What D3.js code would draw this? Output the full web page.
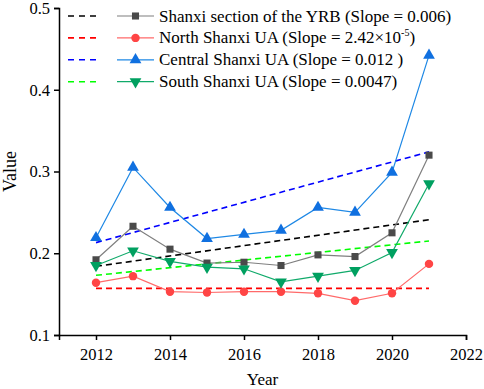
<!DOCTYPE html>
<html>
<head>
<meta charset="utf-8">
<script src="https://cdn.jsdelivr.net/npm/d3@7"></script>
<style>
  body { margin: 0; background: #fff; }
  text { font-family: "Liberation Serif", "Times New Roman", serif; fill: #000; }
</style>
</head>
<body>
<script>
window.onload = function(){

    var w = 484, h = 389;

    // data
    var years = [2012, 2013, 2014, 2015, 2016, 2017, 2018, 2019, 2020, 2021];
    var yrbValues     = [0.192, 0.233, 0.205, 0.188, 0.189, 0.185, 0.198, 0.196, 0.225, 0.320];
    var northValues   = [0.164, 0.172, 0.153, 0.152, 0.153, 0.153, 0.151, 0.142, 0.151, 0.187];
    var centralValues = [0.219, 0.305, 0.256, 0.218, 0.223, 0.228, 0.256, 0.250, 0.299, 0.442];
    var southValues   = [0.185, 0.203, 0.190, 0.183, 0.181, 0.165, 0.172, 0.179, 0.201, 0.285];

    // trend lines: value at 2012 and at 2021
    var trendYears = [2012, 2021];
    var yrbTrend     = [0.184, 0.241];
    var northTrend   = [0.157, 0.157];
    var centralTrend = [0.213, 0.324];
    var southTrend   = [0.173, 0.215];

    var xTicks = [2012, 2014, 2016, 2018, 2020, 2022];
    var yTicks = [0.1, 0.2, 0.3, 0.4, 0.5];

    var series = [
        {name: "Shanxi section of the YRB (Slope = 0.006)", values: yrbValues, trend: yrbTrend,
         line: "#7f7f7f", marker: "#4a4a4a", trendColor: "#000000", shape: "square"},
        {name: "North Shanxi UA (Slope = 2.42×10", sup: "-5", tail: ")", values: northValues, trend: northTrend,
         line: "#ff6a6a", marker: "#ff4545", trendColor: "#ff0000", shape: "circle"},
        {name: "Central Shanxi UA (Slope = 0.012 )", values: centralValues, trend: centralTrend,
         line: "#1e88e5", marker: "#1070e0", trendColor: "#0000ff", shape: "up"},
        {name: "South Shanxi UA (Slope = 0.0047)", values: southValues, trend: southTrend,
         line: "#10aa6a", marker: "#00a060", trendColor: "#00ff00", shape: "down"}
    ];

    var svg = d3.select("body")
        .append("svg")
        .attr("width", w)
        .attr("height", h)
        .attr("class", "svg");

    var x = d3.scaleLinear()
        .domain([2011, 2022])
        .range([59, 466]);

    var y = d3.scaleLinear()
        .domain([0.1, 0.5])
        .range([335, 8]);

    // axes
    var xAxis = d3.axisBottom(x)
        .tickValues(xTicks)
        .tickFormat(d3.format("d"))
        .tickSizeOuter(0)
        .tickSize(5)
        .tickPadding(8);

    var gx = svg.append("g")
        .attr("class", "xaxis")
        .attr("transform", "translate(0,335)")
        .call(xAxis);

    var yAxis = d3.axisLeft(y)
        .tickValues(yTicks)
        .tickFormat(d3.format(".1f"))
        .tickSizeOuter(0)
        .tickSize(5)
        .tickPadding(4);

    var gy = svg.append("g")
        .attr("class", "yaxis")
        .attr("transform", "translate(59,0)")
        .call(yAxis);

    svg.selectAll(".xaxis path, .yaxis path, .xaxis line, .yaxis line")
        .attr("stroke", "#000")
        .attr("stroke-width", 1.5);

    svg.selectAll(".xaxis text, .yaxis text")
        .style("font-family", "Liberation Serif")
        .style("font-size", "16.5px")
        .attr("fill", "#000");

    // axis titles
    svg.append("text")
        .attr("x", x(2016.5))
        .attr("y", 385)
        .attr("text-anchor", "middle")
        .style("font-size", "17px")
        .text("Year");

    svg.append("text")
        .attr("transform", "translate(16," + y(0.3) + ") rotate(-90)")
        .attr("text-anchor", "middle")
        .style("font-size", "18px")
        .text("Value");

    // trend lines
    var trendLine = d3.line()
        .x(function(d, i){ return x(trendYears[i]); })
        .y(function(d){ return y(d); });

    svg.selectAll(".trend")
        .data(series)
        .enter()
        .append("path")
        .attr("class", "trend")
        .attr("d", function(d){ return trendLine(d.trend); })
        .attr("fill", "none")
        .attr("stroke", function(d){ return d.trendColor; })
        .attr("stroke-width", 1.6)
        .attr("stroke-dasharray", "6,4");

    // data lines
    var valueLine = d3.line()
        .x(function(d, i){ return x(years[i]); })
        .y(function(d){ return y(d); });

    svg.selectAll(".series")
        .data(series)
        .enter()
        .append("path")
        .attr("class", "series")
        .attr("d", function(d){ return valueLine(d.values); })
        .attr("fill", "none")
        .attr("stroke", function(d){ return d.line; })
        .attr("stroke-width", 1.2);

    var shapes = {
        square: d3.symbol().type(d3.symbolSquare).size(50),
        circle: d3.symbol().type(d3.symbolCircle).size(56),
        up: d3.symbol().type(d3.symbolTriangle).size(60),
        down: d3.symbol().type(d3.symbolTriangle).size(60)
    };

    function drawMarker(g, s, px, py){
        g.append("path")
            .attr("d", shapes[s.shape]())
            .attr("transform", "translate(" + px + "," + py + ")" + (s.shape == "down" ? " rotate(180)" : ""))
            .attr("fill", s.marker);
    }

    series.forEach(function(s){
        var g = svg.append("g").attr("class", "markers");
        s.values.forEach(function(v, i){
            drawMarker(g, s, x(years[i]), y(v));
        });
    });

    // legend
    var legend = svg.append("g").attr("class", "legend");
    series.forEach(function(s, i){
        var ly = 16 + i * 21.9;
        legend.append("line")
            .attr("x1", 68).attr("x2", 101)
            .attr("y1", ly).attr("y2", ly)
            .attr("stroke", s.trendColor)
            .attr("stroke-width", 1.6)
            .attr("stroke-dasharray", "6,5");
        legend.append("line")
            .attr("x1", 117).attr("x2", 154)
            .attr("y1", ly).attr("y2", ly)
            .attr("stroke", s.line)
            .attr("stroke-width", 1.2);
        drawMarker(legend, s, 135.5, ly);
        var t = legend.append("text")
            .attr("x", 159)
            .attr("y", ly + 5.5)
            .style("font-size", "17px")
            .text(s.name);
        if (s.sup) {
            t.append("tspan")
                .attr("dy", -7)
                .style("font-size", "10px")
                .text(s.sup);
            t.append("tspan")
                .attr("dy", 7)
                .text(s.tail);
        }
    });
};
</script>
</body>
</html>
